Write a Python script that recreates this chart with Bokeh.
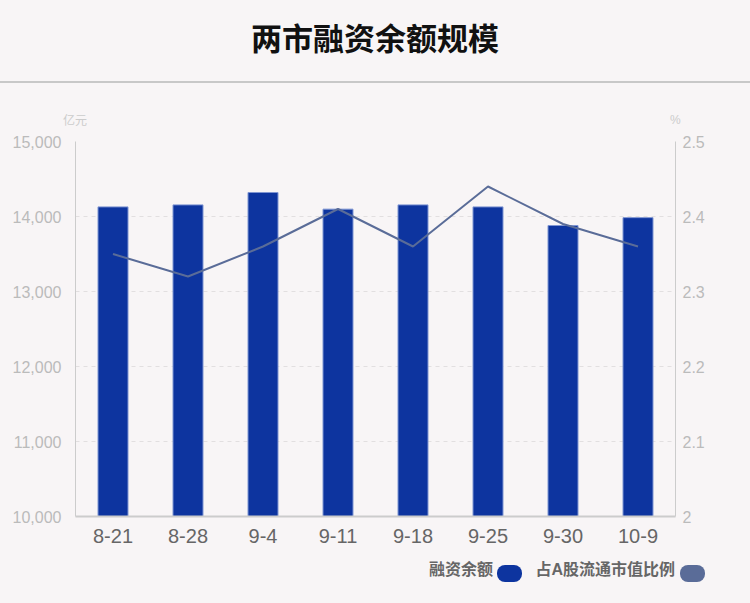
from bokeh.plotting import figure
from bokeh.models import (FactorRange, Range1d, LinearAxis, FixedTicker, NumeralTickFormatter,
                          CustomJSTickFormatter, Div)
from bokeh.layouts import column
from bokeh.embed import file_html
from bokeh.resources import INLINE

# ---- data ----
dates = ["8-21", "8-28", "9-4", "9-11", "9-18", "9-25", "9-30", "10-9"]
balance = [14128, 14155, 14320, 14098, 14155, 14128, 13880, 13985]   # 亿元
ratio = [2.35, 2.32, 2.36, 2.41, 2.36, 2.44, 2.39, 2.36]             # %
left_ticks = [10000, 11000, 12000, 13000, 14000, 15000]
right_ticks = [2.0, 2.1, 2.2, 2.3, 2.4, 2.5]
title_text = "两市融资余额规模"
series_names = ["融资余额", "占A股流通市值比例"]
unit_left = "亿元"
unit_right = "%"

BG = "#f8f5f6"
BAR = "#0d349f"
LINE = "#5a6c98"

# ---- header (title, rule, axis units) ----
header_html = f"""
<div style="position:relative;width:750px;height:130px;background:{BG};">
  <div style="position:absolute;left:0;top:21px;width:750px;height:31px;line-height:31px;text-align:center;
       font-family:'Noto Sans CJK SC';font-weight:bold;font-size:31px;color:#111;">{title_text}</div>
  <div style="position:absolute;left:0;top:81px;width:750px;height:2px;background:#c8c8c8;"></div>
  <div style="position:absolute;left:63px;top:114px;height:12px;line-height:12px;
       font-family:'Noto Sans CJK SC';font-size:12px;color:#cccccc;">{unit_left}</div>
  <div style="position:absolute;left:670px;top:114px;height:12px;line-height:12px;
       font-family:'Liberation Sans';font-size:12px;color:#cccccc;">{unit_right}</div>
</div>
"""
header = Div(text=header_html, width=750, height=130, margin=0, styles={"background-color": BG})

# ---- chart ----
p = figure(width=750, height=423, output_backend="svg", toolbar_location=None,
           x_range=FactorRange(factors=dates, range_padding=0),
           y_range=Range1d(10000, 15000),
           min_border_left=75, min_border_right=75, min_border_top=11, min_border_bottom=37,
           margin=0)
p.extra_y_ranges = {"pct": Range1d(2.0, 2.5)}
p.background_fill_color = BG
p.border_fill_color = BG
p.outline_line_color = None

p.vbar(x=dates, top=balance, bottom=10000, width=0.4, fill_color=BAR,
       line_color="#7f95d2", line_width=1)
p.line(x=dates, y=ratio, y_range_name="pct", line_color=LINE, line_width=2)

# grid
p.xgrid.grid_line_color = None
p.ygrid.grid_line_color = "#e2dfe0"
p.ygrid.grid_line_dash = "4 4"
p.ygrid.ticker = FixedTicker(ticks=left_ticks)

# left axis
ya = p.yaxis[0]
ya.ticker = FixedTicker(ticks=left_ticks)
ya.formatter = NumeralTickFormatter(format="0,0")
ya.axis_line_color = "#cccccc"
ya.major_tick_line_color = None
ya.minor_tick_line_color = None
ya.major_label_text_color = "#bbbbbb"
ya.major_label_text_font = "Liberation Sans"
ya.major_label_text_font_size = "16px"
ya.major_label_standoff = 8

# right axis
ra = LinearAxis(y_range_name="pct", ticker=FixedTicker(ticks=right_ticks),
                formatter=CustomJSTickFormatter(code="return String(Math.round(tick*10)/10);"))
ra.axis_line_color = "#cccccc"
ra.major_tick_line_color = None
ra.minor_tick_line_color = None
ra.major_label_text_color = "#bbbbbb"
ra.major_label_text_font = "Liberation Sans"
ra.major_label_text_font_size = "16px"
ra.major_label_standoff = 1
p.add_layout(ra, "right")

# bottom axis
xa = p.xaxis[0]
xa.axis_line_color = "#cccccc"
xa.axis_line_width = 2
xa.major_tick_line_color = None
xa.minor_tick_line_color = None
xa.major_label_text_color = "#666666"
xa.major_label_text_font = "Liberation Sans"
xa.major_label_text_font_size = "20px"
xa.major_label_standoff = 6

# ---- legend footer ----
swatch = "position:absolute;top:12px;width:25px;height:17px;border-radius:8px;"
txt = ("position:absolute;top:9px;height:16px;line-height:16px;white-space:nowrap;"
       "font-family:'Liberation Sans','Noto Sans CJK SC';font-weight:bold;font-size:16px;color:#666666;")
footer_html = f"""
<div style="position:relative;width:750px;height:50px;background:{BG};">
  <div style="{txt}right:257px;">{series_names[0]}</div>
  <div style="{swatch}left:497px;background:{BAR};"></div>
  <div style="{txt}right:75px;">{series_names[1]}</div>
  <div style="{swatch}left:680px;background:{LINE};"></div>
</div>
"""
footer = Div(text=footer_html, width=750, height=50, margin=0, styles={"background-color": BG})

layout = column(header, p, footer, spacing=0, margin=0, styles={"background-color": BG})

open("out.html", "w").write(file_html(layout, INLINE))
